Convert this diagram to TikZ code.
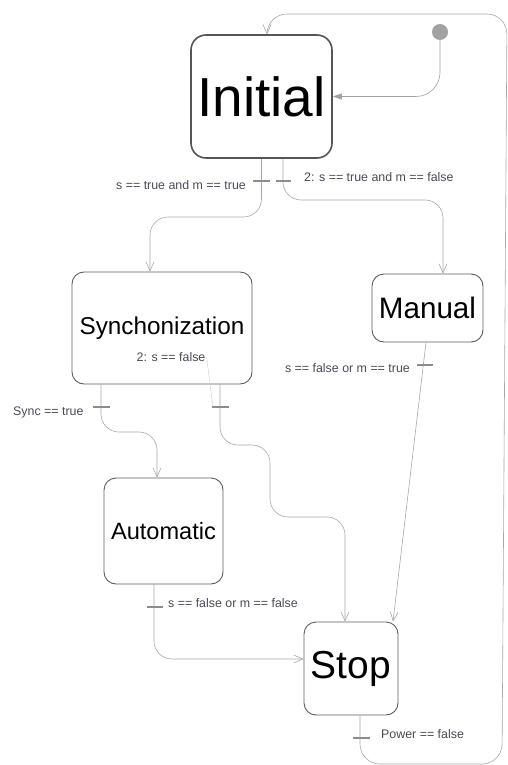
\documentclass[tikz,border=0pt]{standalone}
\usepackage{fontspec}
\setmainfont{Liberation Sans}
\usetikzlibrary{arrows.meta}
\definecolor{wire}{HTML}{A8A8A8}
\definecolor{tickc}{HTML}{8C8C8C}
\definecolor{boxline}{HTML}{5E5E5E}
\definecolor{labelc}{HTML}{4A4A55}
\definecolor{dotc}{HTML}{A2A2A2}
\tikzset{
  state/.style={draw=boxline, line width=0.9pt, rounded corners=12pt, fill=white,
    inner sep=0pt, align=center},
  guard/.style={text=labelc, inner sep=0pt, font=\fontsize{12.4}{14}\selectfont},
  trans/.style={draw=wire, line width=0.6pt, rounded corners=18pt,
    -{Straight Barb[length=9pt,width=8pt,line width=0.6pt]}},
  tickmark/.style={draw=tickc, line width=1.1pt},
  leader/.style={draw=wire!60, line width=0.4pt},
}
\begin{document}
\begin{tikzpicture}[x=1pt, y=-1pt]
\useasboundingbox (0,0) rectangle (508,765);

% states
\node[state, line width=1.6pt, draw=boxline!90!black, rounded corners=15pt,
  minimum width=141pt, minimum height=123pt,
  font=\fontsize{55}{60}\selectfont] (init) at (261.5,96.5) {Initial};
\node[state, minimum width=180pt, minimum height=112pt,
  font=\fontsize{24.3}{28}\selectfont] (sync) at (162,328) {Synchonization};
\node[state, minimum width=111pt, minimum height=68pt,
  font=\fontsize{29.6}{32}\selectfont] (manual) at (427.5,308) {Manual};
\node[state, minimum width=119pt, minimum height=106pt,
  font=\fontsize{23.6}{27}\selectfont] (auto) at (163.5,531) {Automatic};
\node[state, minimum width=94pt, minimum height=93pt,
  font=\fontsize{39}{42}\selectfont] (stop) at (351,668.5) {Stop};

% initial pseudo-state
\node[circle, fill=dotc, minimum size=16pt, inner sep=0pt] (start) at (440,32) {};

% transitions
\draw[draw=wire, line width=0.6pt, rounded corners=24pt,
  -{Triangle[length=9pt,width=6pt]}, color=dotc]
  (start.south) -- (440,96.5) -- (init.east);

\draw[trans] (init.south) -- (261.5,217) -- (150,217) -- ([xshift=-12pt]sync.north);
\draw[trans] ([xshift=21.5pt]init.south) -- (283,200) -- (443,200) -- ([xshift=15.5pt]manual.north);
\draw[trans] ([xshift=-1.5pt]manual.south) -- ([xshift=42pt]stop.north);
\draw[trans] ([xshift=-61pt]sync.south) -- (101,432) -- (157,432) -- ([xshift=-6.5pt]auto.north);
\draw[trans] ([xshift=58pt]sync.south) -- (220,445) -- (270,445) -- (270,517)
  -- (345,517) -- ([xshift=-6pt]stop.north);
\draw[trans] ([xshift=-9.5pt]auto.south) -- (154,659) -- ([yshift=9.5pt]stop.west);
\draw[trans, rounded corners=20pt] ([xshift=9pt]stop.south) -- (360,764) -- (502,764)
  -- (507,14) -- (267,14) -- ([xshift=5.5pt]init.north);

% guard ticks
\draw[tickmark] (253,181) -- (270,181);
\draw[tickmark] (276,181) -- (291,181);
\draw[tickmark] (417,365) -- (433,365);
\draw[tickmark] (93,407) -- (110,407);
\draw[tickmark] (212,407) -- (229,407);
\draw[tickmark] (147,607) -- (163,607);
\draw[tickmark] (353,738) -- (370,738);

% guard labels
\node[guard, anchor=east] (g1) at (246,185) {s == true and m == true};
\node[guard, anchor=west] (g2) at (304,177) {2: s == true and m == false};
\node[guard] (g3) at (171,357) {2: s == false};
\node[guard, anchor=east] (g4) at (410,368) {s == false or m == true};
\node[guard, anchor=west] (g5) at (13,412) {Sync == true};
\node[guard, anchor=west] (g6) at (168,603) {s == false or m == false};
\node[guard, anchor=west] (g7) at (381,734) {Power == false};

\coordinate (g3tick) at (213,407);
\draw[leader] ([xshift=1pt]g3.east) -- (g3tick);
\end{tikzpicture}
\end{document}
